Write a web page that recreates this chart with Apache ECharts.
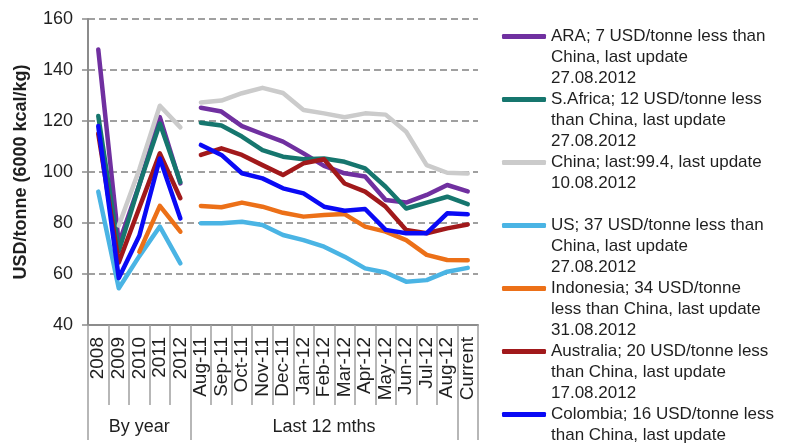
<!DOCTYPE html>
<html>
<head>
<meta charset="utf-8">
<script src="https://cdn.jsdelivr.net/npm/echarts@6/dist/echarts.min.js"></script>
<style>
  html, body { margin: 0; padding: 0; background: #ffffff; }
  #chart { width: 794px; height: 448px; }
</style>
</head>
<body>
<div id="chart"></div>
<script>
// Category labels
const yearCats = ['2008', '2009', '2010', '2011', '2012'];
const monthCats = ['Aug-11', 'Sep-11', 'Oct-11', 'Nov-11', 'Dec-11', 'Jan-12', 'Feb-12',
                   'Mar-12', 'Apr-12', 'May-12', 'Jun-12', 'Jul-12', 'Aug-12', 'Current'];
const groupLabels = ['By year', 'Last 12 mths'];

// Value axis ticks
const yMin = 40;
const yMax = 160;
const yStep = 20;
const yAxisTitle = 'USD/tonne (6000 kcal/kg)';

// Series names and legend texts
const seriesNames = ['ARA', 'S.Africa', 'China', 'US', 'Indonesia', 'Australia', 'Colombia'];
const legendTexts = [
  'ARA; 7 USD/tonne less than\nChina, last update\n27.08.2012',
  'S.Africa; 12 USD/tonne less\nthan China, last update\n27.08.2012',
  'China; last:99.4, last update\n10.08.2012\n ',
  'US; 37 USD/tonne less than\nChina, last update\n27.08.2012',
  'Indonesia; 34 USD/tonne\nless than China, last update\n31.08.2012',
  'Australia; 20 USD/tonne less\nthan China, last update\n17.08.2012',
  'Colombia; 16 USD/tonne less\nthan China, last update\n17.08.2012'
];
const seriesColors = ['#7030A0', '#16766E', '#CBCBCB', '#4AB4E4', '#EC7018', '#A1191B', '#0A0AF5'];

// Yearly averages (USD/tonne)
const araYear       = [148, 72, 95, 121.5, 95.5];
const safricaYear   = [122, 69, 95, 119, 96];
const chinaYear     = [null, 79, 101, 126, 117.5];
const usYear        = [92.3, 54.4, 67, 78.6, 64.2];
const indonesiaYear = [null, null, 68.7, 86.7, 76.6];
const australiaYear = [115, 64.5, 86, 107.3, 89.7];
const colombiaYear  = [118, 58.4, 75, 105.3, 81.8];

// Monthly prices, Aug-11 .. Current (USD/tonne)
const araMonth       = [125.2, 123.7, 118, 114.9, 111.9, 107.3, 102.4, 99.5, 98.2, 89, 88, 91, 94.9, 92.4];
const safricaMonth   = [119.3, 118.2, 113.9, 108.6, 106, 105, 105.3, 104, 101.4, 94.2, 85.7, 88, 90.3, 87.4];
const chinaMonth     = [127.3, 128, 130.9, 133, 131, 124.3, 123, 121.5, 123, 122.5, 115.8, 102.7, 99.7, 99.4];
const usMonth        = [79.9, 79.9, 80.5, 79.2, 75.3, 73.3, 70.7, 66.8, 62.2, 60.6, 57, 57.6, 60.9, 62.4];
const indonesiaMonth = [86.7, 86.2, 88, 86.4, 84, 82.5, 83.1, 83.5, 78.6, 76.6, 73.3, 67.5, 65.5, 65.4];
const australiaMonth = [106.7, 109.3, 106.7, 102.7, 98.8, 103.4, 105, 95.5, 92.3, 86.4, 77.3, 76, 77.9, 79.4];
const colombiaMonth  = [110.6, 106.7, 99.5, 97.5, 93.6, 91.6, 86.4, 84.8, 85.5, 77.3, 76, 76, 83.8, 83.4];

const yearlyData = [araYear, safricaYear, chinaYear, usYear, indonesiaYear, australiaYear, colombiaYear];
const monthlyData = [araMonth, safricaMonth, chinaMonth, usMonth, indonesiaMonth, australiaMonth, colombiaMonth];

const categories = yearCats.concat(monthCats);
const FONT = '"Liberation Sans", Arial, sans-serif';
const AXIS_GRAY = '#8c8c8c';
const TEXT_COLOR = '#1f1f1f';

// Each country gets two line pieces (yearly and monthly) sharing a name,
// so the yearly block and the monthly block stay unconnected.
const series = [];
seriesNames.forEach(function (name, k) {
  const common = {
    name: name,
    type: 'line',
    symbol: 'none',
    connectNulls: false,
    color: seriesColors[k],
    lineStyle: { width: 4.5, color: seriesColors[k], cap: 'round', join: 'round' },
    emphasis: { disabled: true },
    z: 2 + k
  };
  series.push(Object.assign({}, common, {
    data: yearlyData[k].concat(monthCats.map(function () { return null; }))
  }));
  series.push(Object.assign({}, common, {
    data: yearCats.map(function () { return null; }).concat(monthlyData[k])
  }));
});

const groupCenter = [Math.floor((yearCats.length - 1) / 2), yearCats.length + 6];
const groupEdges = [0, yearCats.length, categories.length - 1];

// Legend text is vertically centred on its swatch; two leading empty lines
// put the swatch beside the first line of each entry.
const LINE_H = 21;

const chart = echarts.init(document.getElementById('chart'), null, { renderer: 'canvas' });
chart.setOption({
  animation: false,
  backgroundColor: '#ffffff',
  textStyle: { fontFamily: FONT },
  grid: { left: 88, right: 316, top: 19, bottom: 123, containLabel: false },
  legend: {
    orient: 'vertical',
    left: 502,
    top: -16,
    height: 900,
    padding: 0,
    itemGap: -2 * LINE_H,
    itemWidth: 44,
    itemHeight: 5,
    icon: 'roundRect',
    selectedMode: false,
    data: seriesNames,
    formatter: function (name) { return '\n\n' + legendTexts[seriesNames.indexOf(name)]; },
    textStyle: {
      fontFamily: FONT,
      fontSize: 17,
      lineHeight: LINE_H,
      color: TEXT_COLOR
    }
  },
  xAxis: [
    {
      type: 'category',
      data: categories,
      boundaryGap: true,
      position: 'bottom',
      axisLine: { show: true, onZero: false, lineStyle: { color: AXIS_GRAY, width: 2 } },
      axisTick: { show: true, interval: 0, length: 80, lineStyle: { color: '#a0a0a0', width: 1.5 } },
      axisLabel: {
        interval: 0,
        rotate: 90,
        margin: 12,
        fontFamily: FONT,
        fontSize: 19,
        color: TEXT_COLOR
      },
      splitLine: { show: false }
    },
    {
      type: 'category',
      data: categories,
      boundaryGap: true,
      position: 'bottom',
      offset: 80,
      axisLine: { show: false },
      axisTick: {
        show: true,
        length: 35,
        interval: function (i) { return groupEdges.indexOf(i) !== -1; },
        lineStyle: { color: '#a0a0a0', width: 1.5 }
      },
      axisLabel: {
        interval: function (i) { return groupCenter.indexOf(i) !== -1; },
        formatter: function (v, i) { return i === groupCenter[0] ? groupLabels[0] : groupLabels[1]; },
        margin: 13,
        fontFamily: FONT,
        fontSize: 18,
        color: TEXT_COLOR
      },
      splitLine: { show: false }
    }
  ],
  yAxis: {
    type: 'value',
    min: yMin,
    max: yMax,
    interval: yStep,
    name: yAxisTitle,
    nameLocation: 'middle',
    nameGap: 58,
    nameRotate: 90,
    nameTextStyle: { fontFamily: FONT, fontSize: 18, fontWeight: 'bold', color: TEXT_COLOR },
    axisLine: { show: true, lineStyle: { color: AXIS_GRAY, width: 2 } },
    axisTick: { show: true, length: 6, lineStyle: { color: AXIS_GRAY, width: 1.5 } },
    axisLabel: { margin: 15, fontFamily: FONT, fontSize: 18, color: TEXT_COLOR },
    splitLine: { show: true, lineStyle: { color: '#a0a0a0', width: 2, type: [7, 4] } }
  },
  series: series
});
</script>
</body>
</html>
